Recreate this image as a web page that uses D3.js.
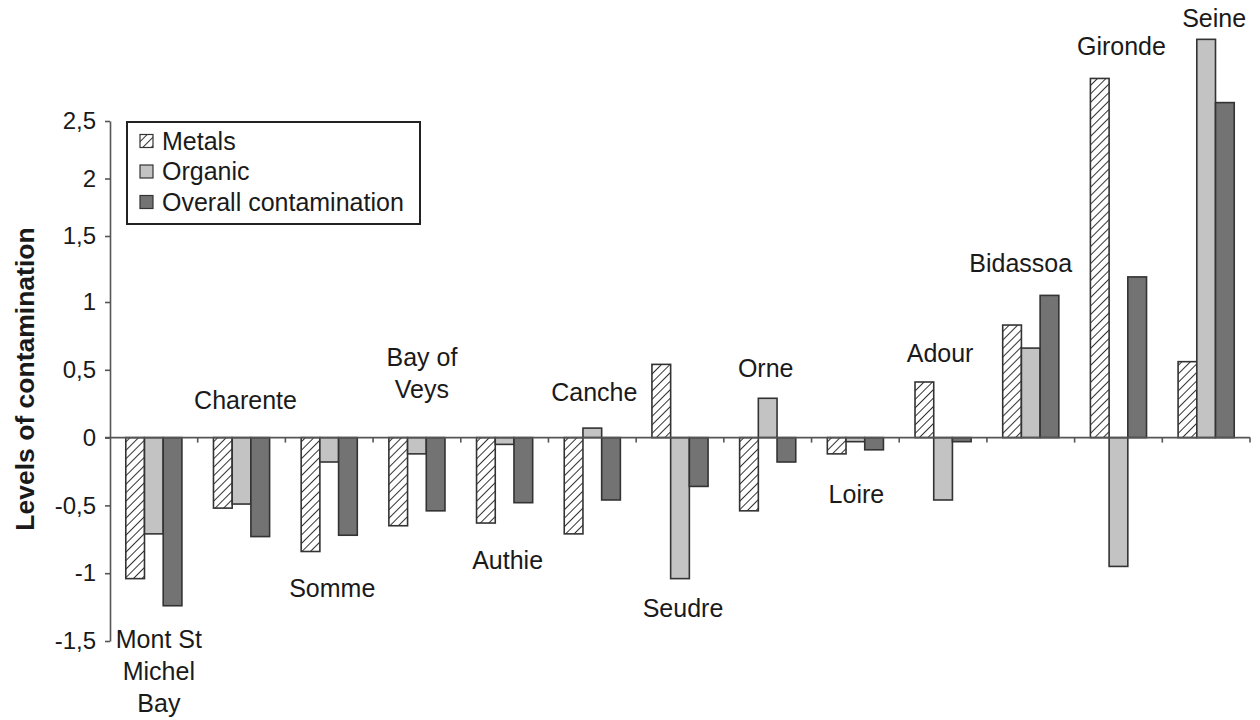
<!DOCTYPE html>
<html>
<head>
<meta charset="utf-8">
<script src="https://cdn.jsdelivr.net/npm/d3@7"></script>
<style>
  body { margin: 0; background: #fff; }
  svg { display: block; font-family: "Liberation Sans", Arial, sans-serif; }
</style>
</head>
<body>
<svg></svg>
<script>
// estuaries, ordered as on the chart
const categories = ["Mont St Michel Bay", "Charente", "Somme", "Bay of Veys", "Authie", "Canche",
  "Seudre", "Orne", "Loire", "Adour", "Bidassoa", "Gironde", "Seine"];
// label text split on lines
const labelLines = [["Mont St", "Michel", "Bay"], ["Charente"], ["Somme"], ["Bay of", "Veys"], ["Authie"],
  ["Canche"], ["Seudre"], ["Orne"], ["Loire"], ["Adour"], ["Bidassoa"], ["Gironde"], ["Seine"]];

const seriesNames = ["Metals", "Organic", "Overall contamination"];
const metals = [-1.04, -0.52, -0.84, -0.65, -0.63, -0.71, 0.54, -0.54, -0.12, 0.41, 0.83, 2.87, 0.56];
const organic = [-0.71, -0.49, -0.18, -0.12, -0.05, 0.07, -1.04, 0.29, -0.03, -0.46, 0.66, -0.95, 3.21];
const overall = [-1.24, -0.73, -0.72, -0.54, -0.48, -0.46, -0.36, -0.18, -0.09, -0.03, 1.05, 1.19, 2.66];

const yTicks = [-1.5, -1, -0.5, 0, 0.5, 1, 1.5, 2, 2.5];

// where each name sits: above or below its bars, gap in px, small x nudge
const labelLayout = [
  { side: "below", gap: 34, dx: 5 },
  { side: "above", gap: 37, dx: 4 },
  { side: "below", gap: 37, dx: 3 },
  { side: "above", gap: 48, dx: 5 },
  { side: "below", gap: 37, dx: 3 },
  { side: "above", gap: 36, dx: 2 },
  { side: "below", gap: 30, dx: 3 },
  { side: "above", gap: 30, dx: -2 },
  { side: "below", gap: 40, dx: 1 },
  { side: "above", gap: 29, dx: -3 },
  { side: "above", gap: 32, dx: -10 },
  { side: "above", gap: 32, dx: 3 },
  { side: "above", gap: 21, dx: 8 },
];

const width = 1260;
const height = 720;
const fontSize = 25;
const strokeCol = "#333";
const fills = ["url(#hatch)", "#c3c3c3", "#737373"];

const svg = d3.select("svg").attr("width", width).attr("height", height);

// hatch pattern for the metals bars
const pat = svg.append("defs").append("pattern")
  .attr("id", "hatch")
  .attr("patternUnits", "userSpaceOnUse")
  .attr("width", 6)
  .attr("height", 6)
  .attr("patternTransform", "rotate(45)");
pat.append("rect").attr("width", 6).attr("height", 6).attr("fill", "#fff");
pat.append("line").attr("x1", 0).attr("y1", 0).attr("x2", 0).attr("y2", 6)
  .attr("stroke", "#333").attr("stroke-width", 2);

// the printed axis is a little squeezed above 1.5, so the scale follows it
const y = d3.scaleLinear()
  .domain([-1.5, 1, 1.5, 2.5])
  .range([641, 302, 236, 121]);

const x0 = d3.scaleBand()
  .domain(categories)
  .range([110, 1250])
  .paddingInner(0.36)
  .paddingOuter(0.18);

const x1 = d3.scaleBand()
  .domain(seriesNames)
  .range([0, x0.bandwidth()]);

const values = [metals, organic, overall];
const rows = categories.map((c, i) => ({
  name: c,
  i: i,
  vals: seriesNames.map((s, j) => ({ series: s, j: j, value: values[j][i] })),
}));

// bars
const groups = svg.append("g").selectAll("g")
  .data(rows)
  .join("g")
  .attr("transform", (d) => `translate(${x0(d.name)},0)`);

groups.selectAll("rect")
  .data((d) => d.vals)
  .join("rect")
  .attr("x", (d) => x1(d.series))
  .attr("width", x1.bandwidth())
  .attr("y", (d) => y(Math.max(0, d.value)))
  .attr("height", (d) => Math.abs(y(d.value) - y(0)))
  .attr("fill", (d) => fills[d.j])
  .attr("stroke", strokeCol)
  .attr("stroke-width", 1.6);

// y axis
const yAxis = svg.append("g")
  .attr("transform", "translate(110,0)")
  .call(d3.axisLeft(y)
    .tickValues(yTicks)
    .tickSize(5)
    .tickSizeOuter(0)
    .tickPadding(9)
    .tickFormat((d) => String(d).replace(".", ",")));
yAxis.select(".domain").attr("stroke", "#555").attr("stroke-width", 1.6);
yAxis.selectAll(".tick line").attr("stroke", "#555").attr("stroke-width", 1.6);
yAxis.selectAll(".tick text")
  .attr("font-size", 24)
  .attr("font-family", "Liberation Sans, Arial, sans-serif")
  .attr("fill", "#1a1a1a");

// x axis at zero, with ticks between the groups
const step = x0.step();
const xStart = x0.range()[0];
const xAxis = svg.append("g").attr("stroke", "#555").attr("stroke-width", 1.6);
xAxis.append("line")
  .attr("x1", xStart - 5)
  .attr("x2", x0.range()[1])
  .attr("y1", y(0))
  .attr("y2", y(0));
xAxis.selectAll("line.tk")
  .data(d3.range(1, categories.length + 1))
  .join("line")
  .attr("class", "tk")
  .attr("x1", (d) => xStart + d * step)
  .attr("x2", (d) => xStart + d * step)
  .attr("y1", y(0))
  .attr("y2", y(0) + 5);

// estuary names
const lineH = 32;
svg.append("g")
  .attr("text-anchor", "middle")
  .attr("font-size", fontSize)
  .attr("fill", "#1a1a1a")
  .selectAll("text")
  .data(rows)
  .join("text")
  .each(function (d) {
    const lay = labelLayout[d.i];
    const lines = labelLines[d.i];
    const cx = x0(d.name) + x0.bandwidth() / 2 + lay.dx;
    const top = d3.max(d.vals, (v) => Math.max(0, v.value));
    const bottom = d3.min(d.vals, (v) => Math.min(0, v.value));
    let firstY;
    if (lay.side === "above") {
      firstY = y(top) - lay.gap - (lines.length - 1) * lineH;
    } else {
      firstY = y(bottom) + lay.gap;
    }
    d3.select(this).selectAll("tspan")
      .data(lines)
      .join("tspan")
      .attr("x", cx)
      .attr("y", (l, k) => firstY + k * lineH)
      .attr("dy", "0.35em")
      .text((l) => l);
  });

// y axis title
svg.append("text")
  .attr("transform", `translate(25,${(y(2.5) + y(-1.5)) / 2 - 2}) rotate(-90)`)
  .attr("text-anchor", "middle")
  .attr("dy", "0.35em")
  .attr("font-size", 26.5)
  .attr("font-weight", "bold")
  .attr("fill", "#1a1a1a")
  .text("Levels of contamination");

// legend
const legTop = y(2.5) + 1;
const legend = svg.append("g");
legend.append("rect")
  .attr("x", 127)
  .attr("y", legTop)
  .attr("width", 293)
  .attr("height", 102)
  .attr("fill", "#fff")
  .attr("stroke", "#222")
  .attr("stroke-width", 2);

const legItems = legend.selectAll("g.item")
  .data(seriesNames)
  .join("g")
  .attr("class", "item")
  .attr("transform", (d, i) => `translate(140,${legTop + 19 + i * 30.5})`);
legItems.append("rect")
  .attr("x", 0)
  .attr("y", -6.5)
  .attr("width", 13)
  .attr("height", 13)
  .attr("fill", (d, i) => fills[i])
  .attr("stroke", strokeCol)
  .attr("stroke-width", 1.2);
legItems.append("text")
  .attr("x", 22)
  .attr("dy", "0.35em")
  .attr("font-size", fontSize)
  .attr("fill", "#1a1a1a")
  .text((d) => d);
</script>
</body>
</html>
